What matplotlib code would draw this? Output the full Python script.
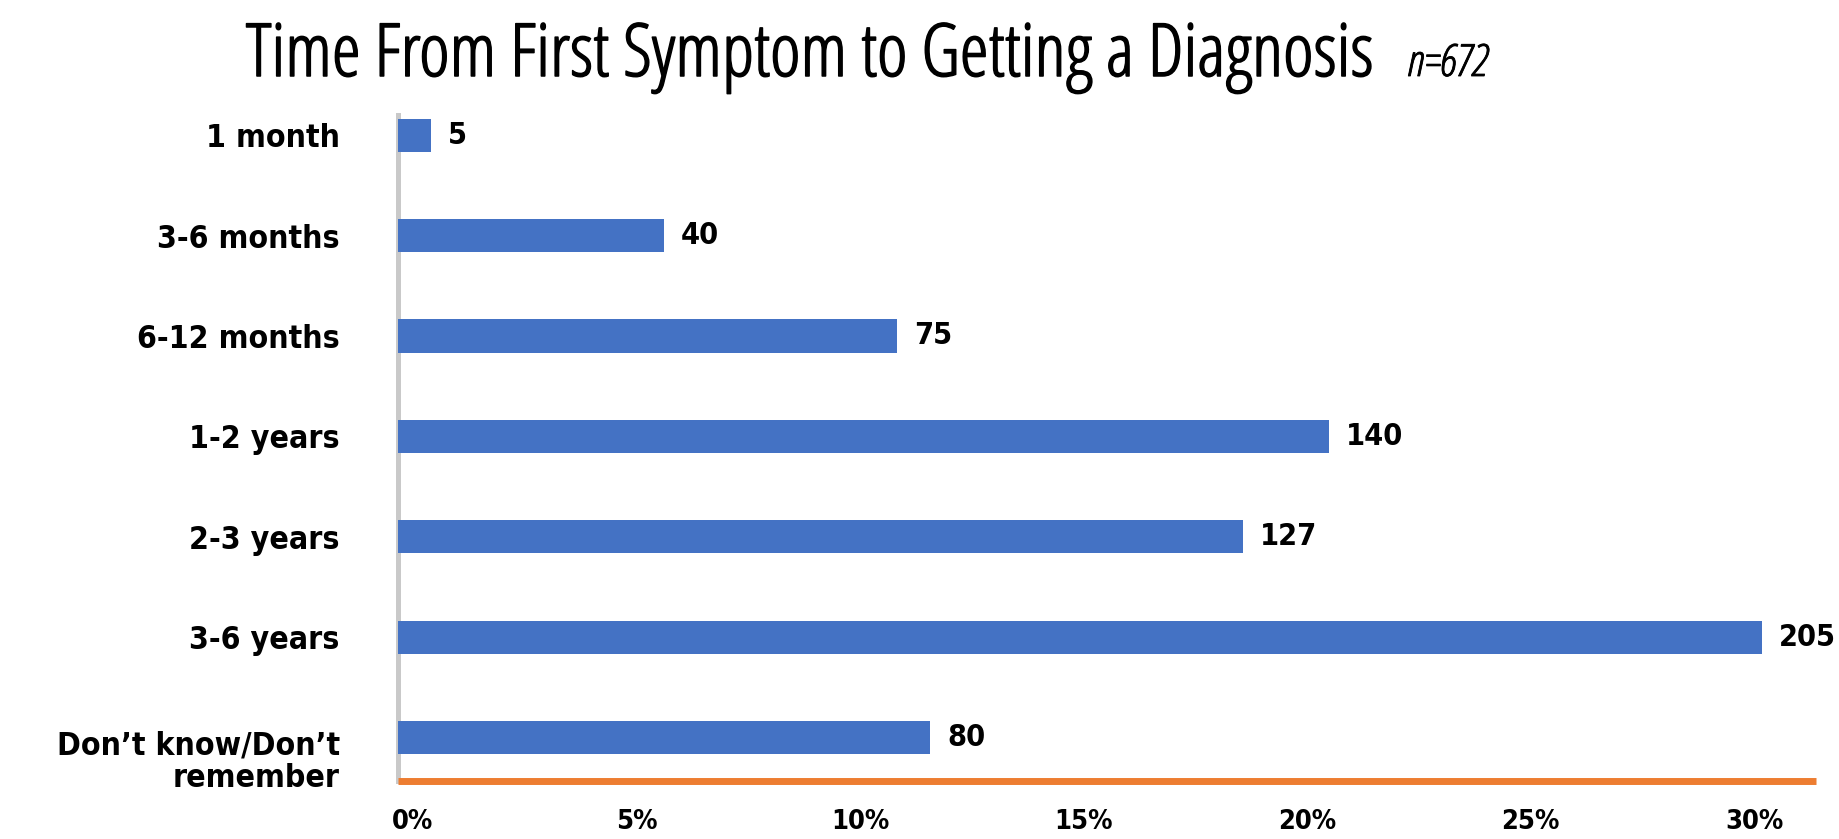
import matplotlib
matplotlib.use("Agg")
import matplotlib.pyplot as plt
import matplotlib.patheffects as pe
from matplotlib import font_manager as fm
from matplotlib.font_manager import FontProperties
from matplotlib.transforms import ScaledTranslation

# ---- data -------------------------------------------------------------
categories = ["1 month", "3-6 months", "6-12 months", "1-2 years",
              "2-3 years", "3-6 years", "Don\u2019t know/Don\u2019t\nremember"]
counts = [5, 40, 75, 140, 127, 205, 80]
n_total = 672
tick_pcts = [0, 5, 10, 15, 20, 25, 30]
title_text = "Time From First Symptom to Getting a Diagnosis"
n_text = "n=672"

BAR_BLUE = "#4472C4"
AXIS_ORANGE = "#ED7D31"
AXIS_GREY = "#C9C9C9"


# ---- fonts: prefer a condensed humanist sans ----------------------------
def _wnum(w):
    if isinstance(w, (int, float)):
        return int(w)
    return fm.weight_dict.get(w, 400)


CONDENSED = ("condensed", "semi-condensed", "extra-condensed", "ultra-condensed")
FAMILIES = ["Noto Sans", "Open Sans", "Roboto", "DejaVu Sans",
            "Liberation Sans Narrow"]


def find_font(weight, italic=False):
    """Return (FontProperties, is_condensed) for the closest condensed face."""
    for fam in FAMILIES:
        best, bestd = None, None
        for f in fm.fontManager.ttflist:
            if f.name != fam or f.stretch not in CONDENSED:
                continue
            if italic != (f.style in ("italic", "oblique")):
                continue
            d = abs(_wnum(f.weight) - weight)
            if f.stretch != "condensed":
                d += 30
            if best is None or d < bestd:
                best, bestd = f, d
        if best is not None and bestd <= 130:
            return FontProperties(fname=best.fname), True
    return FontProperties(family=["Open Sans", "DejaVu Sans"],
                          weight=weight,
                          style="italic" if italic else "normal"), False


fp_title, _ = find_font(400)
fp_label, _ = find_font(600)
fp_value, _ = find_font(700)
fp_tick, _ = find_font(700)
fp_n, _ = find_font(400, italic=True)

# ---- figure -----------------------------------------------------------
W, H = 1840, 839
fig = plt.figure(figsize=(W / 100, H / 100), dpi=100)
fig.patch.set_facecolor("white")

left, right, bottom, top = 398, 1816, 781, 115
ax = fig.add_axes([left / W, 1 - bottom / H, (right - left) / W, (bottom - top) / H])

shares = [c / n_total * 100 for c in counts]
ypos = list(range(len(categories)))
ax.barh(ypos, shares, height=0.33, color=BAR_BLUE, zorder=3)

ax.set_ylim(6.43, -0.2)
ax.set_xlim(0, 31.72)

for y, s, c in zip(ypos, shares, counts):
    ax.annotate(str(c), xy=(s, y), xytext=(17, 0), textcoords="offset pixels",
                ha="left", va="center", fontproperties=fp_value,
                fontsize=22, color="black", annotation_clip=False)

# spines
for side in ("top", "right"):
    ax.spines[side].set_visible(False)
ax.spines["left"].set_color(AXIS_GREY)
ax.spines["left"].set_linewidth(3.6)
ax.spines["bottom"].set_color(AXIS_ORANGE)
ax.spines["bottom"].set_linewidth(5.0)
ax.spines["bottom"].set_capstyle("butt")

ax.set_xticks(tick_pcts)
ax.set_xticklabels([f"{t}%" for t in tick_pcts])
ax.tick_params(axis="x", length=0, pad=20)
for lab in ax.get_xticklabels():
    lab.set_fontproperties(fp_tick)
    lab.set_fontsize(19.5)
    # nudge the percentage labels slightly to the right of their ticks
    lab.set_transform(lab.get_transform() +
                      ScaledTranslation(0.15, 0, fig.dpi_scale_trans))

ax.set_yticks(ypos)
ax.set_yticklabels(categories)
ax.tick_params(axis="y", length=0, pad=42)
for lab in ax.get_yticklabels():
    lab.set_fontproperties(fp_label)
    lab.set_fontsize(26)
    lab.set_linespacing(1.05)
    if "\n" in lab.get_text():
        lab.set_transform(lab.get_transform() +
                          ScaledTranslation(0, -0.2, fig.dpi_scale_trans))

# ---- title ------------------------------------------------------------
title = fig.text(246 / W, 1 - 76 / H, title_text, ha="left", va="baseline",
                 fontproperties=fp_title, fontsize=50, color="black",
                 path_effects=[pe.withStroke(linewidth=1.1, foreground="black")])
fig.canvas.draw()
renderer = fig.canvas.get_renderer()

# size the title from its horizontal span, kept a little under full width
tw = title.get_window_extent(renderer).width
title.set_fontsize(max(34, min(58, 0.83 * 50 * (1607 - 246) / tw)))

# size the category labels so the longest line spans ~284 px
probe = fig.text(0, 0, "Don\u2019t know/Don\u2019t", fontproperties=fp_label,
                 fontsize=26)
pw = probe.get_window_extent(renderer).width
probe.remove()
lab_size = max(18, min(30, 26 * 284 / pw))
for lab in ax.get_yticklabels():
    lab.set_fontsize(lab_size)

fig.canvas.draw()
tbox = title.get_window_extent(renderer)
n_lab = fig.text((tbox.x1 + 33) / W, 1 - 76 / H, n_text, ha="left",
                 va="baseline", fontproperties=fp_n, fontsize=26, color="black",
                 path_effects=[pe.withStroke(linewidth=0.6, foreground="black")])
fig.canvas.draw()
nw = n_lab.get_window_extent(renderer).width
n_lab.set_fontsize(max(18, min(32, 26 * 116 / nw)))

fig.savefig("out.png", dpi=100, facecolor="white")
